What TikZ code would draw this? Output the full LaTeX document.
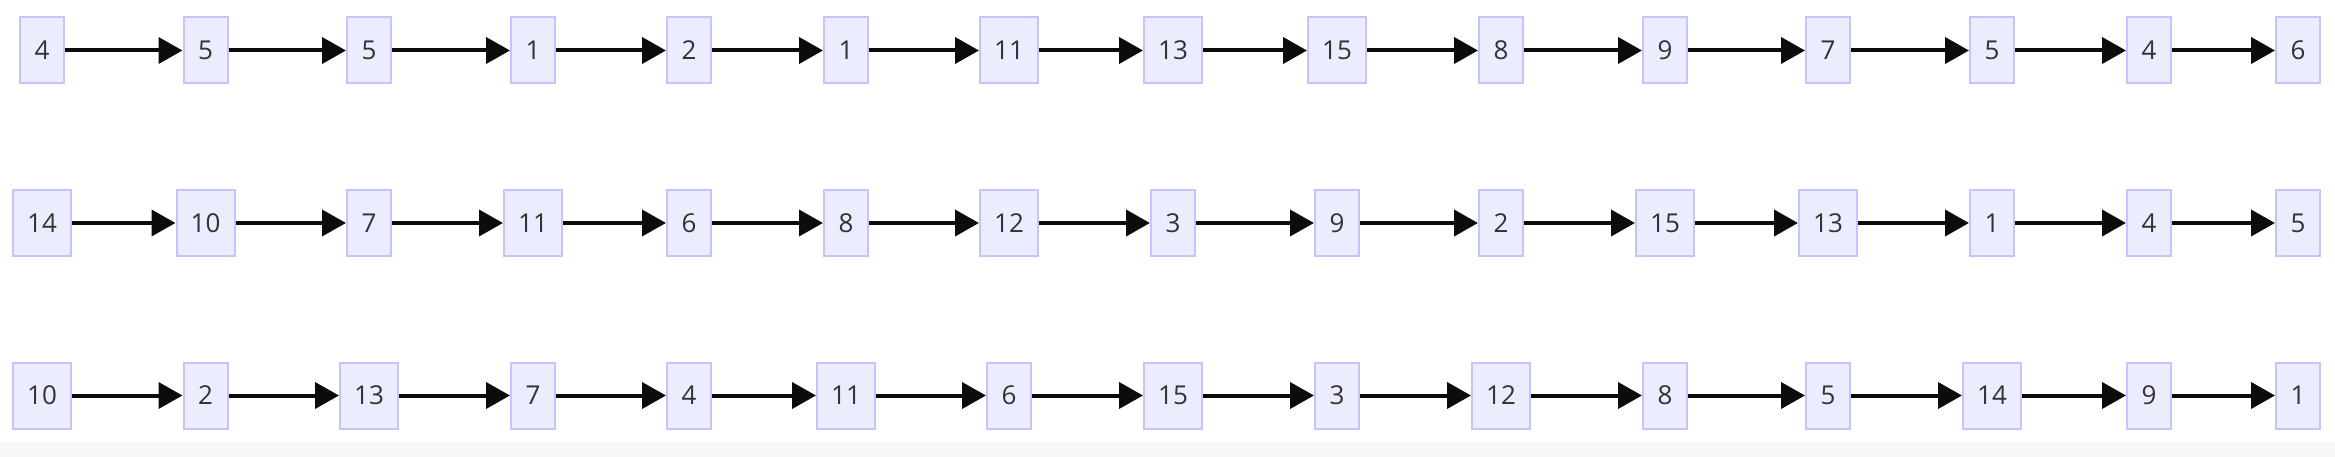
\documentclass[tikz,border=0pt]{standalone}
\usepackage{fontspec}
\setmainfont{Open Sans}
\usepackage{tikz}
\usetikzlibrary{arrows.meta}
\definecolor{box_fill}{RGB}{236,236,255}
\definecolor{box_line}{RGB}{196,196,255}
\definecolor{edge_black}{RGB}{12,12,12}
\definecolor{text_gray}{RGB}{51,51,51}
\definecolor{strip_gray}{RGB}{248,248,248}

\begin{document}
\begin{tikzpicture}[->,line width=4pt,>={Triangle[length=24pt,width=26pt]},x=1pt,y=-1pt]
    \tikzstyle{num}=[draw=box_line, fill=box_fill, line width=2pt, rectangle, minimum width=44pt, minimum height=66pt, inner sep=0pt, text=text_gray, font=\fontsize{26}{30}\selectfont]
    \tikzstyle{wnum}=[num, minimum width=58pt]

    \useasboundingbox (0,0) rectangle (2335,457);
    \fill[strip_gray] (0,442) rectangle (2335,457);

    % first chain
    \node[num]  (a1)  at (42,50.5)   {4};
    \node[num]  (a2)  at (205.5,50.5) {5};
    \node[num]  (a3)  at (369,50.5)  {5};
    \node[num]  (a4)  at (533,50.5)  {1};
    \node[num]  (a5)  at (689,50.5)  {2};
    \node[num]  (a6)  at (846,50.5)  {1};
    \node[wnum] (a7)  at (1009,50.5) {11};
    \node[wnum] (a8)  at (1173,50.5) {13};
    \node[wnum] (a9)  at (1337,50.5) {15};
    \node[num]  (a10) at (1501,50.5) {8};
    \node[num]  (a11) at (1665,50.5) {9};
    \node[num]  (a12) at (1828,50.5) {7};
    \node[num]  (a13) at (1992,50.5) {5};
    \node[num]  (a14) at (2149,50.5) {4};
    \node[num]  (a15) at (2298,50.5) {6};

    % second chain
    \node[wnum] (b1)  at (42,223)    {14};
    \node[wnum] (b2)  at (205.5,223) {10};
    \node[num]  (b3)  at (369,223)   {7};
    \node[wnum] (b4)  at (533,223)   {11};
    \node[num]  (b5)  at (689,223)   {6};
    \node[num]  (b6)  at (846,223)   {8};
    \node[wnum] (b7)  at (1009,223)  {12};
    \node[num]  (b8)  at (1173,223)  {3};
    \node[num]  (b9)  at (1337,223)  {9};
    \node[num]  (b10) at (1501,223)  {2};
    \node[wnum] (b11) at (1665,223)  {15};
    \node[wnum] (b12) at (1828,223)  {13};
    \node[num]  (b13) at (1992,223)  {1};
    \node[num]  (b14) at (2149,223)  {4};
    \node[num]  (b15) at (2298,223)  {5};

    % third chain
    \node[wnum] (c1)  at (42,395.5)    {10};
    \node[num]  (c2)  at (205.5,395.5) {2};
    \node[wnum] (c3)  at (369,395.5)   {13};
    \node[num]  (c4)  at (533,395.5)   {7};
    \node[num]  (c5)  at (689,395.5)   {4};
    \node[wnum] (c6)  at (846,395.5)   {11};
    \node[num]  (c7)  at (1009,395.5)  {6};
    \node[wnum] (c8)  at (1173,395.5)  {15};
    \node[num]  (c9)  at (1337,395.5)  {3};
    \node[wnum] (c10) at (1501,395.5)  {12};
    \node[num]  (c11) at (1665,395.5)  {8};
    \node[num]  (c12) at (1828,395.5)  {5};
    \node[wnum] (c13) at (1992,395.5)  {14};
    \node[num]  (c14) at (2149,395.5)  {9};
    \node[num]  (c15) at (2298,395.5)  {1};

    \path
     (a1) edge[edge_black] (a2)
     (a2) edge[edge_black] (a3)
     (a3) edge[edge_black] (a4)
     (a4) edge[edge_black] (a5)
     (a5) edge[edge_black] (a6)
     (a6) edge[edge_black] (a7)
     (a7) edge[edge_black] (a8)
     (a8) edge[edge_black] (a9)
     (a9) edge[edge_black] (a10)
     (a10) edge[edge_black] (a11)
     (a11) edge[edge_black] (a12)
     (a12) edge[edge_black] (a13)
     (a13) edge[edge_black] (a14)
     (a14) edge[edge_black] (a15)
     (b1) edge[edge_black] (b2)
     (b2) edge[edge_black] (b3)
     (b3) edge[edge_black] (b4)
     (b4) edge[edge_black] (b5)
     (b5) edge[edge_black] (b6)
     (b6) edge[edge_black] (b7)
     (b7) edge[edge_black] (b8)
     (b8) edge[edge_black] (b9)
     (b9) edge[edge_black] (b10)
     (b10) edge[edge_black] (b11)
     (b11) edge[edge_black] (b12)
     (b12) edge[edge_black] (b13)
     (b13) edge[edge_black] (b14)
     (b14) edge[edge_black] (b15)
     (c1) edge[edge_black] (c2)
     (c2) edge[edge_black] (c3)
     (c3) edge[edge_black] (c4)
     (c4) edge[edge_black] (c5)
     (c5) edge[edge_black] (c6)
     (c6) edge[edge_black] (c7)
     (c7) edge[edge_black] (c8)
     (c8) edge[edge_black] (c9)
     (c9) edge[edge_black] (c10)
     (c10) edge[edge_black] (c11)
     (c11) edge[edge_black] (c12)
     (c12) edge[edge_black] (c13)
     (c13) edge[edge_black] (c14)
     (c14) edge[edge_black] (c15)
     ;
\end{tikzpicture}
\end{document}
